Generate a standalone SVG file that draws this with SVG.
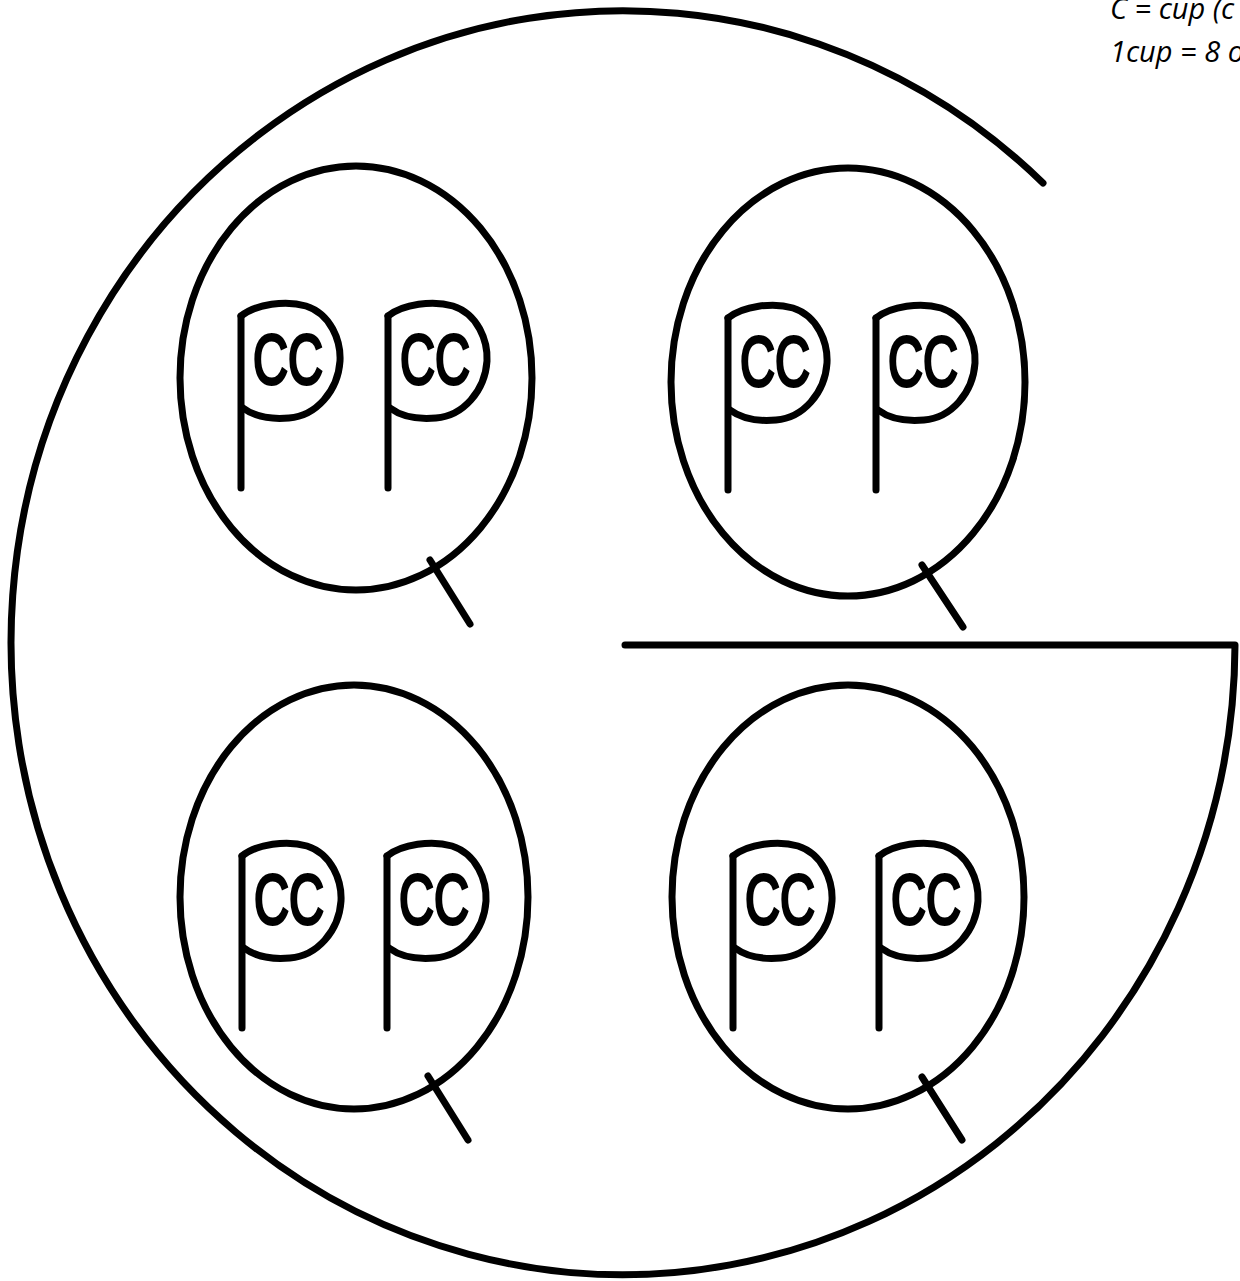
<svg xmlns="http://www.w3.org/2000/svg" width="1240" height="1281" viewBox="0 0 1240 1281">
<style>
.ln{fill:none;stroke:#000;stroke-width:7;stroke-linecap:round;stroke-linejoin:round}
.cc{font-family:"Liberation Sans",Arial,sans-serif;font-size:70px;fill:#000;stroke:#000;stroke-width:3.2}
.lg{font-family:"Open Sans","Noto Sans",sans-serif;font-style:italic;font-size:29px;fill:#000}
</style>
<rect width="1240" height="1281" fill="#fff"/>
<defs>
<g id="pcc">
<path class="ln" d="M0,0 L0,172"/>
<path class="ln" d="M0,0 C15,-12 45,-16 65,-10 C90,-2 100,25 99,45 C97,75 75,100 48,102 C25,104 10,98 2,92"/>
<text class="cc" x="12" y="68" textLength="70" lengthAdjust="spacingAndGlyphs">CC</text>
</g>
</defs>
<g id="outer">
<path class="ln" d="M1043,183 A612,632 0 1 0 1235,645 L625,645"/>
</g>
<g id="q1">
<ellipse class="ln" cx="356" cy="378" rx="176" ry="212"/>
<path class="ln" d="M430,560 L470,624"/>
<use href="#pcc" x="241" y="316"/>
<use href="#pcc" x="388" y="316"/>
</g>
<g id="q2">
<ellipse class="ln" cx="848" cy="382" rx="177" ry="214"/>
<path class="ln" d="M922,565 L963,627"/>
<use href="#pcc" x="728" y="318"/>
<use href="#pcc" x="876" y="318"/>
</g>
<g id="q3">
<ellipse class="ln" cx="354" cy="897" rx="174" ry="212"/>
<path class="ln" d="M428,1076 L468,1140"/>
<use href="#pcc" x="242" y="856"/>
<use href="#pcc" x="387" y="856"/>
</g>
<g id="q4">
<ellipse class="ln" cx="848" cy="897" rx="176" ry="212"/>
<path class="ln" d="M922,1077 L962,1140"/>
<use href="#pcc" x="733" y="856"/>
<use href="#pcc" x="879" y="856"/>
</g>
<g id="legend">
<text class="lg" x="1110" y="19">C = cup (c</text>
<text class="lg" x="1110" y="62">1cup = 8 o</text>
</g>
</svg>
